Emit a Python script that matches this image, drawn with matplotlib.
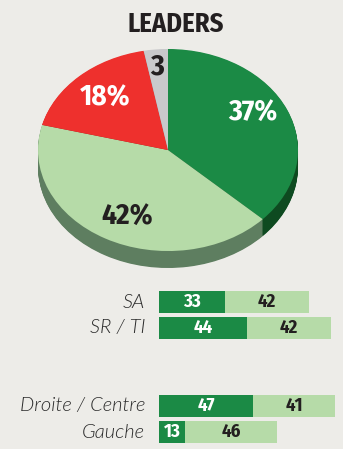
import matplotlib
matplotlib.use("Agg")
import matplotlib.pyplot as plt
import numpy as np

# --- data -------------------------------------------------------------
slice_values = [37, 42, 18, 3]
slice_labels = ["37%", "42%", "18%", "3"]

groups = ["SA", "SR / TI", "Droite / Centre", "Gauche"]
first_values = [33, 44, 47, 13]
second_values = [42, 42, 41, 46]

# --- style ------------------------------------------------------------
BG = "#EDECE8"
DARK_GREEN = "#1B8A45"
LIGHT_GREEN = "#B6DBA8"
RED = "#EE302D"
GREY = "#C9C9CB"
INK = "#231F20"
top_colors = [DARK_GREEN, LIGHT_GREEN, RED, GREY]
side_colors = ["#0E4A20", "#5E7E60", "#8E1C1A", "#8A8A8C"]
label_colors = ["white", INK, "white", INK]
label_pos = [(0.65, 0.37), (-0.315, -0.65), (-0.485, 0.525), (-0.085, 0.82)]

BOLD = dict(family=["Fira Sans Condensed", "DejaVu Sans"], weight="bold")
LIGHT = dict(family=["Lato", "DejaVu Sans"], weight=300, style="italic")

W, H = 343, 449
fig = plt.figure(figsize=(W / 100, H / 100), dpi=100)
fig.patch.set_facecolor(BG)


def px_axes(x0, y0, x1, y1):
    """Axes placed by pixel box (top-left origin)."""
    return fig.add_axes([x0 / W, 1 - y1 / H, (x1 - x0) / W, (y1 - y0) / H])


fig.text(176 / W, 1 - 24 / H, "LEADERS", ha="center", va="center",
         fontsize=19, color=INK, **BOLD)

# --- 3D-looking pie ------------------------------------------------------
depth = 0.168
pax = px_axes(38, 49, 298, 268)
pax.set_facecolor("none")
n_layers = 24
for k in range(n_layers, 0, -1):
    dy = -depth * k / n_layers
    pax.pie(slice_values, colors=side_colors, startangle=90, counterclock=False,
            center=(0, dy), radius=1.0, wedgeprops=dict(linewidth=0))
pax.pie(slice_values, colors=top_colors, startangle=90, counterclock=False,
        center=(0, 0), radius=1.0, wedgeprops=dict(linewidth=0))
pax.set_aspect("auto")
pax.set_xlim(-1, 1)
pax.set_ylim(-1 - depth, 1)
pax.axis("off")

for txt, (x, y), c in zip(slice_labels, label_pos, label_colors):
    pax.text(x, y, txt, ha="center", va="center", fontsize=21, color=c, **BOLD)

# --- stacked horizontal bars --------------------------------------------
bax = px_axes(159, 289, 343, 449)
bax.set_facecolor("none")
ypos = np.array([0, 1, 4, 5])
bh = 0.85
bax.barh(ypos, first_values, height=bh, color=DARK_GREEN, linewidth=0)
bax.barh(ypos, second_values, left=first_values, height=bh,
         color=LIGHT_GREEN, linewidth=0)
bax.set_xlim(0, 92)
bax.set_ylim((449 - 302) / 26, -0.5)
bax.axis("off")

for y, a, b, name in zip(ypos, first_values, second_values, groups):
    bax.text(a / 2, y, str(a), ha="center", va="center", fontsize=13.5,
             color="white", **BOLD)
    bax.text(a + b / 2, y, str(b), ha="center", va="center", fontsize=13.5,
             color=INK, **BOLD)
    bax.text(-7, y, name, ha="right", va="center", fontsize=14.5,
             color="#2A2A2A", clip_on=False, **LIGHT)

fig.savefig("out.png", dpi=100, facecolor=BG)
